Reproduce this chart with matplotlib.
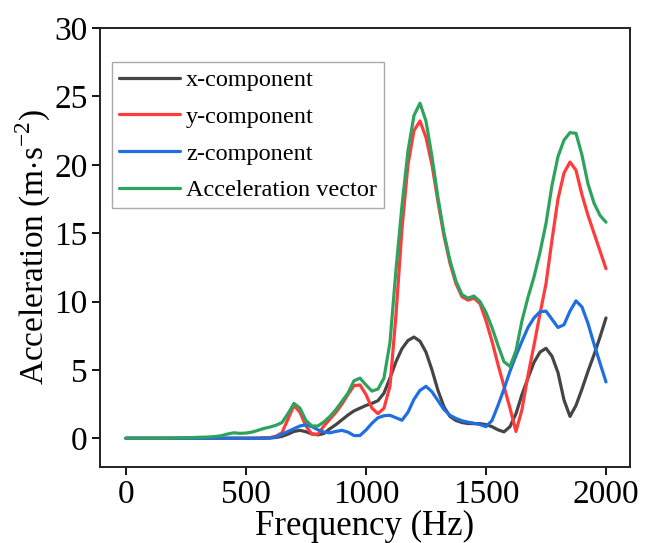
import matplotlib
matplotlib.use("Agg")
import matplotlib.pyplot as plt
import numpy as np

freq = list(range(0, 2001, 25))

x_comp = [0, 0, 0, 0, 0, 0, 0, 0, 0, 0,            # 0-225
          0, 0, 0, 0, 0, 0, 0, 0, 0, 0,            # 250-475
          0, 0, 0.01, 0.02, 0.03, 0.06, 0.14, 0.3, 0.5, 0.58,   # 500-725
          0.48, 0.32, 0.25, 0.35, 0.7, 1.0, 1.35, 1.7, 2.0, 2.2,  # 750-975
          2.4, 2.55, 2.75, 3.3, 4.4, 5.6, 6.55, 7.15, 7.4, 7.1,  # 1000-1225
          6.3, 5.0, 3.5, 2.3, 1.6, 1.3, 1.15, 1.08, 1.07, 1.07,  # 1250-1475
          1.0, 0.85, 0.62, 0.47, 0.85, 1.8, 3.2, 4.4, 5.55, 6.3,  # 1500-1725
          6.58, 6.0, 4.8, 2.8, 1.6, 2.4, 3.6, 4.9, 6.1, 7.4,     # 1750-1975
          8.8]

y_comp = [0, 0, 0, 0, 0, 0, 0, 0, 0, 0,
          0, 0, 0, 0, 0, 0, 0, 0, 0, 0,
          0, 0, 0, 0.02, 0.05, 0.15, 0.4, 1.4, 2.4, 1.9,
          0.9, 0.3, 0.3, 0.9, 1.4, 1.9, 2.5, 3.2, 3.85, 3.9,
          3.2, 2.2, 1.8, 2.2, 3.8, 9.0, 15.3, 20.0, 22.5, 23.2,
          22.0, 20.0, 17.3, 14.8, 12.8, 11.3, 10.35, 10.1, 10.25, 9.85,
          8.6, 7.1, 5.4, 3.8, 2.2, 0.5, 2.1, 4.6, 6.8, 9.1,
          11.3, 14.5, 17.5, 19.4, 20.2, 19.6, 17.8, 16.3, 15.0, 13.7,
          12.4]

z_comp = [0, 0, 0, 0, 0, 0, 0, 0, 0, 0,
          0, 0, 0, 0, 0, 0, 0, 0, 0, 0,
          0, 0, 0, 0, 0.01, 0.1, 0.3, 0.5, 0.7, 0.9,
          0.98, 0.85, 0.62, 0.45, 0.4, 0.5, 0.58, 0.45, 0.2, 0.2,
          0.6, 1.1, 1.5, 1.65, 1.68, 1.5, 1.32, 1.9, 2.85, 3.5,
          3.8, 3.4, 2.75, 2.1, 1.68, 1.45, 1.28, 1.18, 1.1, 1.0,
          0.85, 1.3, 2.4, 3.6, 4.9, 6.05, 7.1, 8.1, 8.8, 9.25,
          9.3, 8.7, 8.1, 8.3, 9.3, 10.05, 9.6, 8.4, 6.9, 5.5,
          4.12]

acc_vec = [0, 0, 0, 0, 0, 0, 0, 0.01, 0.02, 0.03,
           0.04, 0.05, 0.07, 0.08, 0.1, 0.13, 0.2, 0.32, 0.4, 0.36,
           0.38, 0.45, 0.58, 0.72, 0.82, 0.95, 1.15, 1.8, 2.55, 2.2,
           1.3, 0.9, 0.9, 1.2, 1.6, 2.1, 2.7, 3.3, 4.2, 4.4,
           3.9, 3.45, 3.6, 4.4, 7.0, 12.3, 17.0, 21.0, 23.6, 24.5,
           23.2, 20.6, 17.6, 15.0, 13.0, 11.5, 10.5, 10.25, 10.4, 10.0,
           9.2, 8.1, 6.8, 5.6, 5.25, 6.4, 8.6, 10.3, 11.8, 13.6,
           15.7, 18.5, 20.6, 21.8, 22.35, 22.3, 20.7, 18.6, 17.2, 16.3,
           15.8]

labels = ["x-component", "y-component", "z-component", "Acceleration vector"]
colors = ["#454545", "#ff3b3b", "#1f6fe0", "#2ea35e"]

plt.rcParams['font.family'] = ['Liberation Serif', 'DejaVu Serif']
plt.rcParams['mathtext.fontset'] = 'custom'
plt.rcParams['mathtext.rm'] = 'Liberation Serif'

fig = plt.figure(figsize=(6.57, 5.43), dpi=100)
ax = fig.add_axes([100/657, 1-467/543, 530/657, 439/543])

for series, lab, col in zip([x_comp, y_comp, z_comp, acc_vec], labels, colors):
    ax.plot(freq, series, color=col, lw=2.3, label=lab,
            solid_capstyle='round', solid_joinstyle='round')

ax.set_xlim(-108, 2100)
ax.set_ylim(-2.1, 30)
ax.set_xticks([0, 500, 1000, 1500, 2000])
ax.set_yticks([0, 5, 10, 15, 20, 25, 30])
ax.tick_params(axis='both', which='major', direction='out', length=6, width=1.3,
               labelsize=24, top=False, right=False, pad=3)
for sp in ax.spines.values():
    sp.set_linewidth(1.4)
    sp.set_color('#222222')

ax.set_xlabel("Frequency (Hz)", fontsize=25, labelpad=0)
ax.set_ylabel(r"Acceleration (m$\cdot$s$^{-2}$)", fontsize=24, labelpad=1)

leg = ax.legend(loc='upper left', bbox_to_anchor=(12/530, 1-34/439), borderaxespad=0,
                fontsize=17.5, frameon=True, fancybox=False, framealpha=1,
                edgecolor='#aaaaaa', handlelength=2.5, handletextpad=0.25,
                labelspacing=0.6, borderpad=0.3)
leg.get_frame().set_linewidth(1.0)

fig.savefig("out.png", dpi=100)
